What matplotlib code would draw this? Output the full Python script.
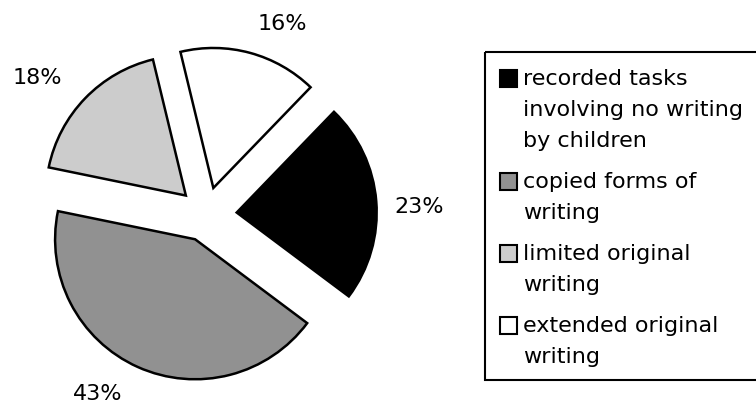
import numpy as np
from matplotlib import pyplot as plt
from matplotlib.patches import Rectangle
import matplotlib

matplotlib.use('Agg')
plt.rcParams["font.family"] = "DejaVu Sans"

# data
categories = ['recorded tasks\ninvolving no writing\nby children',
              'copied forms of\nwriting',
              'limited original\nwriting',
              'extended original\nwriting']
shares = [23, 43, 18, 16]
colors = ['#000000', '#919191', '#cccccc', '#ffffff']

# layout (figure pixels, y measured from top)
W, H = 756, 404
R = 140.0
cx, cy = 206, 215
explode = [0.22, 0.19, 0.20, 0.20]
label_nudge = [-2.5, -7, 5, -6.5]   # degrees, label angle vs wedge middle
label_dist = [1.523, 1.495, 1.554, 1.469]

fig = plt.figure(figsize=[W / 100, H / 100], dpi=100)
fig.patch.set_facecolor('white')

# pie axes: one unit = pie radius
ax = fig.add_axes([0, 0, 1, 1])
c0 = (cx / R, (H - cy) / R)
wedges, _, autotexts = ax.pie(shares, colors=colors, startangle=46, counterclock=False,
                              explode=explode, center=c0, radius=1, autopct='%1.0f%%',
                              wedgeprops=dict(edgecolor='black', linewidth=1.8),
                              textprops=dict(fontsize=16, color='black'))
for w, t, nd, dist in zip(wedges, autotexts, label_nudge, label_dist):
    th = np.radians((w.theta1 + w.theta2) / 2 + nd)
    t.set_position((c0[0] + dist * np.cos(th), c0[1] + dist * np.sin(th)))
ax.set_xlim(0, W / R)
ax.set_ylim(0, H / R)
ax.set_aspect('equal')
ax.axis('off')

# legend drawn in pixel coordinates
lg = fig.add_axes([0, 0, 1, 1])
lg.set_xlim(0, W)
lg.set_ylim(H, 0)
lg.axis('off')
lg.add_patch(Rectangle((485, 52), 280, 328, facecolor='none', edgecolor='black',
                       linewidth=1.5, clip_on=False))
y = 78
for label, col in zip(categories, colors):
    lg.add_patch(Rectangle((500, y - 8.5), 17, 17, facecolor=col, edgecolor='black',
                           linewidth=1.5))
    for line in label.split('\n'):
        lg.text(523, y + 7, line, fontsize=16, ha='left', va='baseline')
        y += 31
    y += 10

fig.savefig('out.png', dpi=100)
